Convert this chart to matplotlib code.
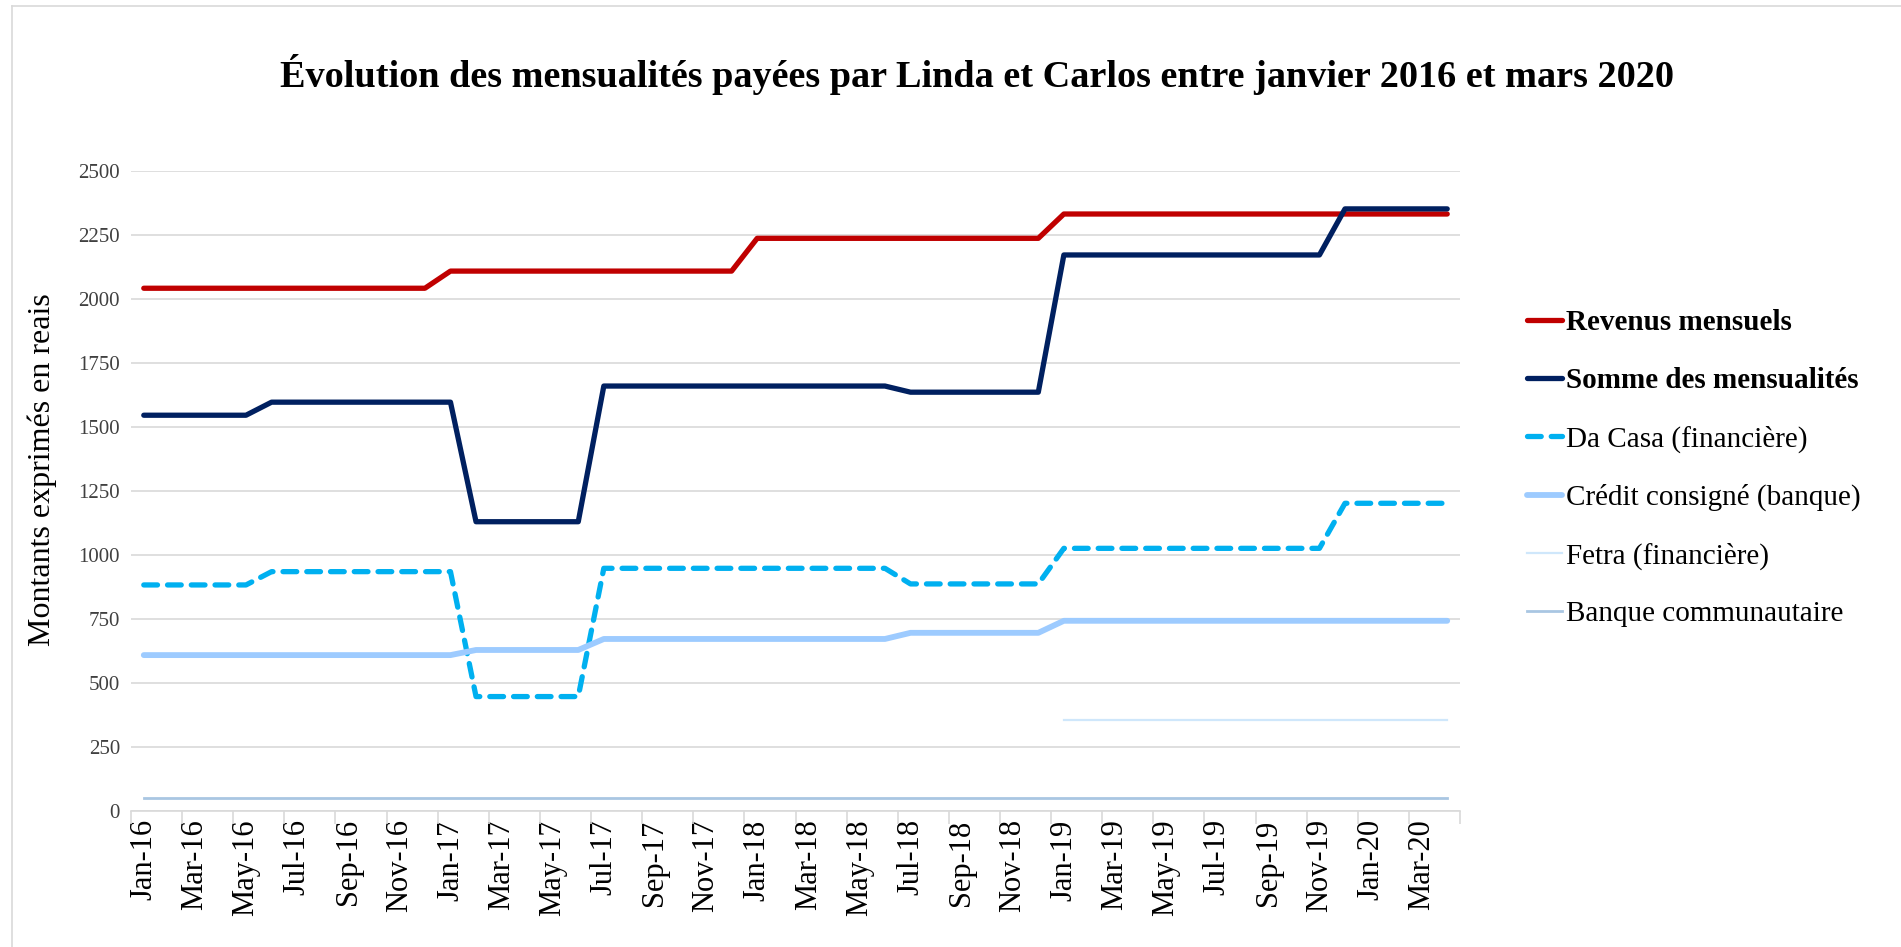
import matplotlib.pyplot as plt
import matplotlib.lines as mlines
import numpy as np

plt.rcParams['font.family'] = ['Liberation Serif', 'DejaVu Serif']

# mois de janvier 2016 à avril 2020
mois = ["Jan", "Feb", "Mar", "Apr", "May", "Jun", "Jul", "Aug", "Sep", "Oct", "Nov", "Dec"]
dates = [f"{m}-{a}" for a in range(16, 21) for m in mois][:52]

# (valeur, nombre de mois)
revenus_paliers = [(2042, 12), (2109, 12), (2237, 12), (2332, 16)]
somme_paliers = [(1546, 5), (1597, 8), (1130, 5), (1660, 12), (1636, 6), (2172, 11), (2352, 5)]
dacasa_paliers = [(883, 5), (935, 8), (447, 5), (948, 12), (887, 6), (1026, 11), (1202, 5)]
credit_paliers = [(609, 13), (629, 5), (672, 12), (696, 6), (743, 16)]
fetra_paliers = [(np.nan, 36), (355, 16)]
banque_paliers = [(50, 52)]


def serie(paliers):
    return np.concatenate([np.full(n, v, dtype=float) for v, n in paliers])


revenus = serie(revenus_paliers)
somme = serie(somme_paliers)
dacasa = serie(dacasa_paliers)
credit = serie(credit_paliers)
fetra = serie(fetra_paliers)
banque = serie(banque_paliers)

x = np.arange(len(dates))

fig = plt.figure(figsize=(19.01, 9.47), dpi=100)
ax = fig.add_axes([131 / 1901, 1 - 811 / 947, (1460 - 131) / 1901, (811 - 171) / 947])

l1, = ax.plot(x, revenus, color="#C00000", lw=3.8, solid_capstyle="round")
l2, = ax.plot(x, somme, color="#002060", lw=3.8, solid_capstyle="round")
l3, = ax.plot(x, dacasa, color="#00B0F0", lw=3.8, dashes=(2.6, 1.9), dash_capstyle="round")
l4, = ax.plot(x, credit, color="#9DCBFF", lw=4.2, solid_capstyle="round")
l5, = ax.plot(x, fetra, color="#CFE7FB", lw=1.6)
l6, = ax.plot(x, banque, color="#A9C6E2", lw=2.0)

ax.set_xlim(-0.5, len(dates) - 0.5)
ax.set_ylim(0, 2500)
ax.set_yticks(np.arange(0, 2501, 250))
ax.grid(axis="y", color="#D9D9D9", lw=1.2)
ax.set_axisbelow(True)

ax.set_xticks(x[::2])
ax.set_xticklabels(dates[::2], rotation=90, fontsize=22)
ax.set_xticks(np.arange(-0.5, len(dates), 2), minor=True)
ax.tick_params(axis="x", which="major", length=0, pad=6)
ax.tick_params(axis="x", which="minor", length=9, color="#D9D9D9", width=1.2)
ax.tick_params(axis="y", length=0, labelsize=15, pad=8, labelcolor="#404040")

for s in ["top", "right", "left"]:
    ax.spines[s].set_visible(False)
ax.spines["bottom"].set_color("#D9D9D9")
ax.spines["bottom"].set_linewidth(1.2)

ax.set_ylabel("Montants exprimés en reais", fontsize=23)
ax.yaxis.set_label_coords(57 / 1901, 1 - 470 / 947, transform=fig.transFigure)

fig.text(0.514, 0.921, "Évolution des mensualités payées par Linda et Carlos entre janvier 2016 et mars 2020",
         ha="center", va="center", fontsize=27.5, fontweight="bold")

leg = fig.legend([l1, l2, l3, l4, l5, l6],
                 ["Revenus mensuels", "Somme des mensualités", "Da Casa (financière)",
                  "Crédit consigné (banque)", "Fetra (financière)", "Banque communautaire"],
                 loc="center left", bbox_to_anchor=(1527 / 1901, 1 - 468 / 947),
                 frameon=False, fontsize=21, handlelength=1.2, handletextpad=0.15,
                 labelspacing=1.07, borderpad=0, borderaxespad=0)
for t in leg.get_texts()[:2]:
    t.set_fontweight("bold")

# cadre du graphique
fig.add_artist(mlines.Line2D([12 / 1901, 12 / 1901], [0, 1 - 6 / 947], color="#D9D9D9", lw=1.2))
fig.add_artist(mlines.Line2D([12 / 1901, 1], [1 - 6 / 947, 1 - 6 / 947], color="#D9D9D9", lw=1.2))

fig.savefig("out.png", dpi=100)
